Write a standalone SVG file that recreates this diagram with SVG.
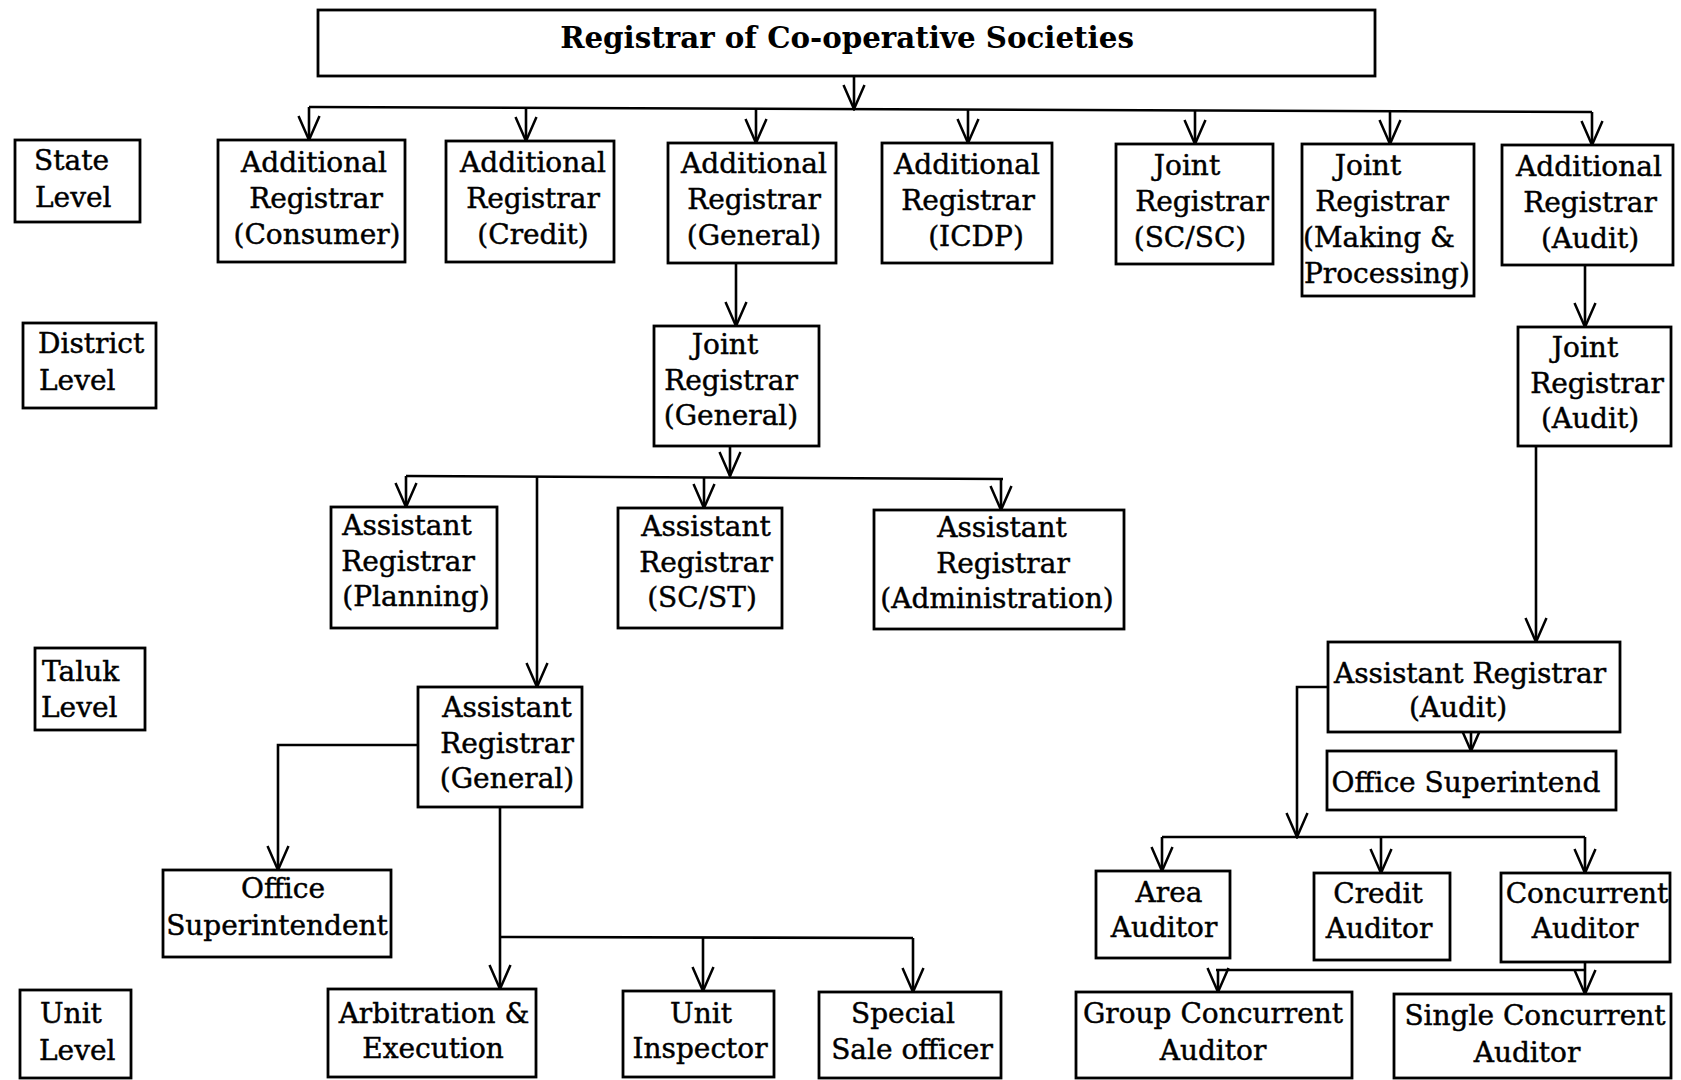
<svg xmlns="http://www.w3.org/2000/svg" width="1681" height="1080" viewBox="0 0 1681 1080">
<defs>
<style>
.b{fill:#fff;stroke:#000;stroke-width:2.8}
.t{font-family:"DejaVu Serif","Liberation Serif",serif;font-size:28px;fill:#000;stroke:#000;stroke-width:0.45;text-anchor:middle}
.l{text-anchor:start}
.c{fill:none;stroke:#000;stroke-width:2.6}
.ttl{font-family:"DejaVu Serif","Liberation Serif",serif;font-size:29.3px;font-weight:bold;fill:#000;text-anchor:middle}
</style>
<marker id="arr" viewBox="-26 -13 28 26" markerWidth="28" markerHeight="26" refX="0" refY="0" orient="auto" markerUnits="userSpaceOnUse">
<path d="M-24,-10.5 L0,0 L-24,10.5" fill="none" stroke="#000" stroke-width="2.5"/>
</marker>
</defs>
<rect width="1681" height="1080" fill="#fff"/>

<g id="connectors">
<path class="c" d="M854,77 L854,109" marker-end="url(#arr)"/>
<path class="c" d="M309,107 L1592,112"/>
<path class="c" d="M309,107 L309,140" marker-end="url(#arr)"/>
<path class="c" d="M526,108 L526,141" marker-end="url(#arr)"/>
<path class="c" d="M756,108 L756,143" marker-end="url(#arr)"/>
<path class="c" d="M968,110 L968,143" marker-end="url(#arr)"/>
<path class="c" d="M1195,110 L1195,144" marker-end="url(#arr)"/>
<path class="c" d="M1390,111 L1390,144" marker-end="url(#arr)"/>
<path class="c" d="M1592,112 L1592,145" marker-end="url(#arr)"/>
<path class="c" d="M736,263 L736,326" marker-end="url(#arr)"/>
<path class="c" d="M1585,265 L1585,327" marker-end="url(#arr)"/>
<path class="c" d="M730,446 L730,476" marker-end="url(#arr)"/>
<path class="c" d="M406,476 L1003,479"/>
<path class="c" d="M406,476 L406,507" marker-end="url(#arr)"/>
<path class="c" d="M704,478 L704,508" marker-end="url(#arr)"/>
<path class="c" d="M1001,479 L1001,510" marker-end="url(#arr)"/>
<path class="c" d="M537,477 L537,687" marker-end="url(#arr)"/>
<path class="c" d="M418,745 L278,745 L278,870" marker-end="url(#arr)"/>
<path class="c" d="M500,807 L500,989" marker-end="url(#arr)"/>
<path class="c" d="M500,937 L913,938"/>
<path class="c" d="M703,937 L703,991" marker-end="url(#arr)"/>
<path class="c" d="M913,938 L913,992" marker-end="url(#arr)"/>
<path class="c" d="M1536,446 L1536,642" marker-end="url(#arr)"/>
<path class="c" d="M1471,732 L1471,751" marker-end="url(#arr)"/>
<path class="c" d="M1328,687 L1297,687 L1297,837" marker-end="url(#arr)"/>
<path class="c" d="M1162,837 L1585,837"/>
<path class="c" d="M1162,837 L1162,871" marker-end="url(#arr)"/>
<path class="c" d="M1381,837 L1381,873" marker-end="url(#arr)"/>
<path class="c" d="M1585,837 L1585,873" marker-end="url(#arr)"/>
<path class="c" d="M1585,962 L1585,994" marker-end="url(#arr)"/>
<path class="c" d="M1216,970 L1585,970"/>
<path class="c" d="M1218,970 L1218,992" marker-end="url(#arr)"/>
</g>

<g id="registrar">
<rect class="b" x="318" y="10" width="1057" height="66"/>
<text class="ttl" x="847" y="48">Registrar of Co-operative Societies</text>
</g>

<g id="state-level">
<rect class="b" x="15" y="140" width="125" height="82"/>
<text class="t l" x="34" y="170">State</text>
<text class="t l" x="35" y="207">Level</text>
</g>
<g id="district-level">
<rect class="b" x="23" y="323" width="133" height="85"/>
<text class="t l" x="38" y="353">District</text>
<text class="t l" x="39" y="390">Level</text>
</g>
<g id="taluk-level">
<rect class="b" x="35" y="648" width="110" height="82"/>
<text class="t l" x="42" y="681">Taluk</text>
<text class="t l" x="41" y="717">Level</text>
</g>
<g id="unit-level">
<rect class="b" x="20" y="990" width="111" height="88"/>
<text class="t l" x="40" y="1023">Unit</text>
<text class="t l" x="39" y="1060">Level</text>
</g>

<g id="ar-consumer">
<rect class="b" x="218" y="140" width="187" height="122"/>
<text class="t" x="314" y="172">Additional</text>
<text class="t" x="316" y="208">Registrar</text>
<text class="t" x="317" y="244">(Consumer)</text>
</g>
<g id="ar-credit">
<rect class="b" x="446" y="141" width="168" height="121"/>
<text class="t" x="533" y="172">Additional</text>
<text class="t" x="533" y="208">Registrar</text>
<text class="t" x="533" y="244">(Credit)</text>
</g>
<g id="ar-general">
<rect class="b" x="668" y="143" width="168" height="120"/>
<text class="t" x="754" y="173">Additional</text>
<text class="t" x="754" y="209">Registrar</text>
<text class="t" x="754" y="245">(General)</text>
</g>
<g id="ar-icdp">
<rect class="b" x="882" y="143" width="170" height="120"/>
<text class="t" x="967" y="174">Additional</text>
<text class="t" x="968" y="210">Registrar</text>
<text class="t" x="976" y="246">(ICDP)</text>
</g>
<g id="jr-scsc">
<rect class="b" x="1116" y="144" width="157" height="120"/>
<text class="t" x="1187" y="175">Joint</text>
<text class="t" x="1202" y="211">Registrar</text>
<text class="t" x="1190" y="247">(SC/SC)</text>
</g>
<g id="jr-making">
<rect class="b" x="1302" y="144" width="172" height="152"/>
<text class="t" x="1368" y="175">Joint</text>
<text class="t" x="1382" y="211">Registrar</text>
<text class="t" x="1379" y="247">(Making &amp;</text>
<text class="t" x="1387" y="283">Processing)</text>
</g>
<g id="ar-audit">
<rect class="b" x="1502" y="145" width="171" height="120"/>
<text class="t" x="1589" y="176">Additional</text>
<text class="t" x="1590" y="212">Registrar</text>
<text class="t" x="1590" y="248">(Audit)</text>
</g>

<g id="jr-general">
<rect class="b" x="654" y="326" width="165" height="120"/>
<text class="t" x="725" y="354">Joint</text>
<text class="t" x="731" y="390">Registrar</text>
<text class="t" x="731" y="425">(General)</text>
</g>
<g id="jr-audit">
<rect class="b" x="1518" y="327" width="153" height="119"/>
<text class="t" x="1585" y="357">Joint</text>
<text class="t" x="1597" y="393">Registrar</text>
<text class="t" x="1590" y="428">(Audit)</text>
</g>

<g id="asr-planning">
<rect class="b" x="331" y="507" width="166" height="121"/>
<text class="t" x="407" y="535">Assistant</text>
<text class="t" x="408" y="571">Registrar</text>
<text class="t" x="416" y="606">(Planning)</text>
</g>
<g id="asr-scst">
<rect class="b" x="618" y="508" width="164" height="120"/>
<text class="t" x="706" y="536">Assistant</text>
<text class="t" x="706" y="572">Registrar</text>
<text class="t" x="702" y="607">(SC/ST)</text>
</g>
<g id="asr-admin">
<rect class="b" x="874" y="510" width="250" height="119"/>
<text class="t" x="1002" y="537">Assistant</text>
<text class="t" x="1003" y="573">Registrar</text>
<text class="t" x="997" y="608">(Administration)</text>
</g>

<g id="asr-general">
<rect class="b" x="418" y="687" width="164" height="120"/>
<text class="t" x="507" y="717">Assistant</text>
<text class="t" x="507" y="753">Registrar</text>
<text class="t" x="507" y="788">(General)</text>
</g>
<g id="office-superintendent">
<rect class="b" x="163" y="870" width="228" height="87"/>
<text class="t" x="283" y="898">Office</text>
<text class="t" x="277" y="935">Superintendent</text>
</g>

<g id="asr-audit">
<rect class="b" x="1328" y="642" width="292" height="90"/>
<text class="t" x="1470" y="683">Assistant Registrar</text>
<text class="t" x="1458" y="717">(Audit)</text>
</g>
<g id="office-superintend">
<rect class="b" x="1327" y="751" width="289" height="59"/>
<text class="t" x="1466" y="792">Office Superintend</text>
</g>

<g id="arbitration">
<rect class="b" x="328" y="989" width="208" height="88"/>
<text class="t" x="434" y="1023">Arbitration &amp;</text>
<text class="t" x="433" y="1058">Execution</text>
</g>
<g id="unit-inspector">
<rect class="b" x="623" y="991" width="151" height="86"/>
<text class="t" x="701" y="1023">Unit</text>
<text class="t" x="700" y="1058">Inspector</text>
</g>
<g id="special-sale">
<rect class="b" x="819" y="992" width="182" height="86"/>
<text class="t" x="903" y="1023">Special</text>
<text class="t" x="912" y="1059">Sale officer</text>
</g>

<g id="area-auditor">
<rect class="b" x="1096" y="871" width="134" height="87"/>
<text class="t" x="1169" y="902">Area</text>
<text class="t" x="1164" y="937">Auditor</text>
</g>
<g id="credit-auditor">
<rect class="b" x="1314" y="873" width="136" height="87"/>
<text class="t" x="1378" y="903">Credit</text>
<text class="t" x="1379" y="938">Auditor</text>
</g>
<g id="concurrent-auditor">
<rect class="b" x="1501" y="873" width="169" height="89"/>
<text class="t" x="1587" y="903">Concurrent</text>
<text class="t" x="1585" y="938">Auditor</text>
</g>
<g id="group-concurrent">
<rect class="b" x="1076" y="992" width="276" height="86"/>
<text class="t" x="1213" y="1023">Group Concurrent</text>
<text class="t" x="1213" y="1060">Auditor</text>
</g>
<g id="single-concurrent">
<rect class="b" x="1394" y="994" width="277" height="84"/>
<text class="t" x="1535" y="1025">Single Concurrent</text>
<text class="t" x="1527" y="1062">Auditor</text>
</g>
</svg>
